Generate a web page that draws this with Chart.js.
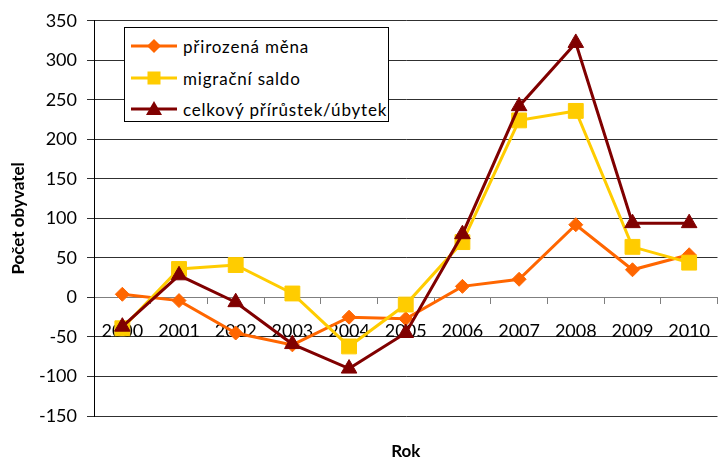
<!DOCTYPE html>
<html>
<head>
<meta charset="utf-8">
<script src="https://cdn.jsdelivr.net/npm/chart.js@4/dist/chart.umd.min.js"></script>
<style>
  html, body { margin: 0; padding: 0; background: #fff; overflow: hidden; }
  #wrap { position: relative; width: 729px; height: 459px; }
  #legend {
    position: absolute; left: 124px; top: 27px; width: 265px; height: 95px;
    border: 1px solid #000; background: #fff; box-sizing: border-box;
    font-family: Lato, sans-serif; font-size: 17px; letter-spacing: 0.8px; color: #000;
  }
  .row { position: absolute; left: 6px; height: 22px; display: flex; align-items: center; }
  .row svg { width: 46px; height: 22px; margin-right: 6px; }
</style>
</head>
<body>
<div id="wrap">
  <canvas id="c" width="729" height="459"></canvas>
  <div id="legend"></div>
</div>
<script>
const years = ['2000','2001','2002','2003','2004','2005','2006','2007','2008','2009','2010'];
const naturalChange = [4, -4, -45, -60, -25, -27, 14, 23, 92, 35, 54];
const migrationBalance = [-39, 36, 41, 5, -62, -9, 70, 224, 236, 64, 44];
const totalChange = [-37, 28, -6, -59, -90, -45, 80, 242, 322, 94, 94];
const seriesNames = ['přirozená měna', 'migrační saldo', 'celkový přírůstek/úbytek'];
const yTicks = { min: -150, max: 350, step: 50 };

const colors = ['#FF6600', '#FFCC00', '#800000'];
const FONT = 'Lato, sans-serif';

const chart = new Chart(document.getElementById('c'), {
  type: 'line',
  data: {
    labels: years,
    datasets: [
      { label: seriesNames[0], data: naturalChange, borderColor: colors[0], backgroundColor: colors[0],
        borderWidth: 3, pointStyle: 'rectRot', pointRadius: 7, pointBorderWidth: 1, order: 2 },
      { label: seriesNames[1], data: migrationBalance, borderColor: colors[1], backgroundColor: colors[1],
        borderWidth: 3, pointStyle: 'rect', pointRadius: 10.5, pointBorderWidth: 1, order: 1 },
      { label: seriesNames[2], data: totalChange, borderColor: colors[2], backgroundColor: colors[2],
        borderWidth: 3, pointStyle: 'triangle', pointRadius: 9, pointBorderWidth: 1, order: 0 }
    ]
  },
  options: {
    responsive: false,
    animation: false,
    devicePixelRatio: 1,
    layout: { padding: { top: 18, right: 0, left: 0, bottom: 0 } },
    plugins: { legend: { display: false }, tooltip: { enabled: false } },
    elements: { line: { tension: 0 } },
    scales: {
      x: {
        type: 'category',
        position: { y: 0 },
        offset: true,
        grid: { display: true, drawOnChartArea: false, drawTicks: true, tickLength: 6, color: '#7f7f7f', lineWidth: 1, offset: true },
        border: { display: true, color: '#7f7f7f', width: 1 },
        ticks: { color: '#000', font: { family: FONT, size: 18 }, padding: 17, maxRotation: 0, autoSkip: false }
      },
      x2: {
        type: 'category',
        position: 'bottom',
        labels: years,
        grid: { display: false },
        border: { display: false },
        ticks: { display: false },
        title: { display: true, text: 'Rok', color: '#000', font: { family: FONT, size: 17, weight: 'bold', lineHeight: 1 }, padding: { top: 0, bottom: -1 } },
        afterFit: (s) => { s.height = 43; }
      },
      y: {
        min: yTicks.min, max: yTicks.max,
        ticks: { stepSize: yTicks.step, color: '#000', font: { family: FONT, size: 18 }, padding: 10 },
        grid: { color: '#303030', lineWidth: 1, tickLength: 7 },
        border: { display: true, color: '#000', width: 1 },
        title: { display: true, text: 'Počet obyvatel', color: '#000', font: { family: FONT, size: 17, weight: 'bold', lineHeight: 1.2 }, padding: { top: 8, bottom: 0 } },
        afterFit: (s) => { s.width = 94; }
      }
    }
  }
});

// HTML legend
const legend = document.getElementById('legend');
const rowTops = [7, 39, 70];
const markers = [
  '<polygon points="23,4 30,11 23,18 16,11" fill="' + colors[0] + '"/>',
  '<rect x="16.5" y="4.5" width="13" height="13" fill="' + colors[1] + '"/>',
  '<polygon points="23,3 31,17 15,17" fill="' + colors[2] + '"/>'
];
seriesNames.forEach((name, i) => {
  const row = document.createElement('div');
  row.className = 'row';
  row.style.top = rowTops[i] + 'px';
  row.innerHTML = '<svg viewBox="0 0 46 22"><line x1="0" y1="11" x2="46" y2="11" stroke="' + colors[i] + '" stroke-width="3"/>' + markers[i] + '</svg><span>' + name + '</span>';
  legend.appendChild(row);
});
</script>
</body>
</html>
